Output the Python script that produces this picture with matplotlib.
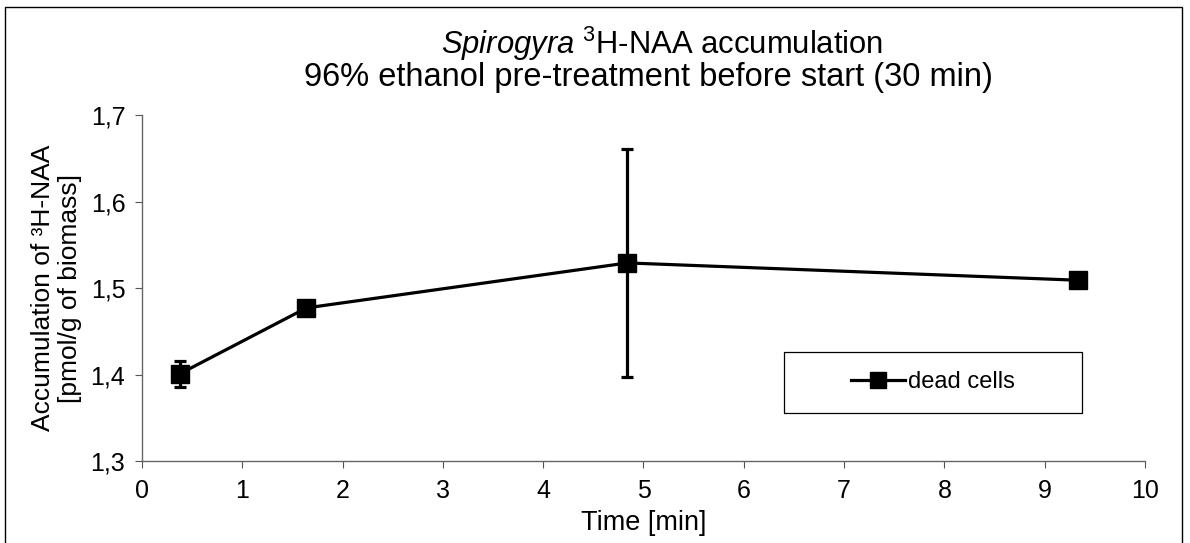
import matplotlib
matplotlib.use("Agg")
import matplotlib.pyplot as plt
from matplotlib.patches import Rectangle

plt.rcParams['font.family'] = ['Liberation Sans', 'DejaVu Sans']
plt.rcParams['mathtext.fontset'] = 'custom'
plt.rcParams['mathtext.rm'] = 'Liberation Sans'
plt.rcParams['mathtext.it'] = 'Liberation Sans:italic'

# data
time_min = [0.38, 1.64, 4.84, 9.33]
accumulation = [1.401, 1.477, 1.529, 1.509]
err = [0.015, 0.006, 0.132, 0.0]
series_label = "dead cells"
x_ticks = list(range(0, 11))
y_ticks = [1.3, 1.4, 1.5, 1.6, 1.7]

fig = plt.figure(figsize=(11.9, 5.43), dpi=100)
ax = fig.add_axes([0.1193, 0.151, 0.8429, 0.6372])

cont = ax.errorbar(time_min, accumulation, yerr=err, color='black', lw=2.3,
                   marker='s', ms=13, elinewidth=2.3, capsize=4.5,
                   capthick=2.3, label=series_label)

ax.set_xlim(0, 10)
ax.set_ylim(1.3, 1.7)
ax.set_xticks(x_ticks)
ax.set_yticks(y_ticks)
ax.set_yticklabels([("%.1f" % v).replace('.', ',') for v in y_ticks])
ax.tick_params(labelsize=18, direction='out', length=5, color='#555555')
ax.tick_params(axis='x', pad=8)
ax.tick_params(axis='y', pad=7)

for s in ['top', 'right']:
    ax.spines[s].set_visible(False)
for s in ['left', 'bottom']:
    ax.spines[s].set_color('#666666')
    ax.spines[s].set_linewidth(1)

ax.set_xlabel("Time [min]", fontsize=19.5, labelpad=5)
ax.set_ylabel("Accumulation of ³H-NAA\n[pmol/g of biomass]", fontsize=19,
              labelpad=6, linespacing=1.15)

fig.text(0.5567, 0.919, r"$\mathit{Spirogyra}$ $^{3}$H-NAA accumulation",
         ha='center', va='center', fontsize=22.3)
fig.text(0.545, 0.857, "96% ethanol pre-treatment before start (30 min)",
         ha='center', va='center', fontsize=23.5)

# legend box, drawn as its own rectangle like the reference
ax.add_patch(Rectangle((0.64, 0.139), 0.297, 0.176, transform=ax.transAxes,
                       fill=False, edgecolor='black', lw=0.9, zorder=5))
leg = ax.legend([cont.lines[0]], [series_label], loc='center',
                bbox_to_anchor=(0.7886, 0.2269), frameon=False, fontsize=17,
                handlelength=2.3, handletextpad=0.15, markerscale=0.85)

fig.patches.append(Rectangle((0.0042, -0.01), 0.989, 0.997,
                             transform=fig.transFigure, fill=False,
                             edgecolor='black', lw=1))

fig.savefig("out.png", dpi=100)
